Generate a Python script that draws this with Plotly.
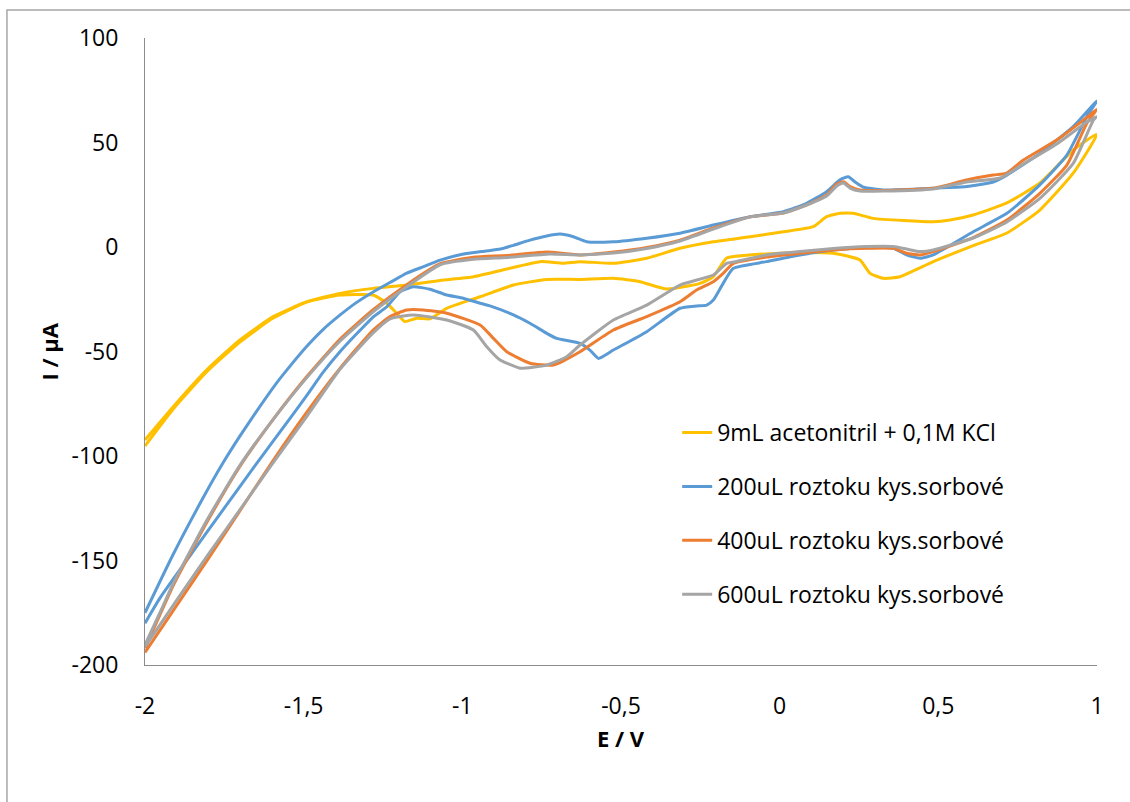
import plotly.graph_objects as go

# Cyclic voltammograms: potential E (V) vs current I (uA).
# Each curve is stored as its forward (-2 V -> 1 V) and reverse (1 V -> -2 V) scan.

SERIES_NAMES = [
    "9mL acetonitril + 0,1M KCl",
    "200uL roztoku kys.sorbové",
    "400uL roztoku kys.sorbové",
    "600uL roztoku kys.sorbové",
]
SERIES_COLORS = ["#FFC000", "#5B9BD5", "#ED7D31", "#A5A5A5"]

# --- 9 mL acetonitrile + 0.1 M KCl ---
kcl_fwd_E = [-2.0, -1.911, -1.806, -1.701, -1.596, -1.49, -1.385, -1.281, -1.175, -1.07,
             -0.965, -0.86, -0.755, -0.682, -0.629, -0.524, -0.419, -0.314, -0.209, -0.093,
             0.012, 0.106, 0.148, 0.19, 0.232, 0.295, 0.484, 0.537, 0.61, 0.716, 0.82, 0.925, 1.0]
kcl_fwd_I = [-92.3, -76.4, -58.9, -44.5, -33.3, -26.2, -22.2, -19.8, -18.2, -16.0,
             -14.2, -10.5, -7.0, -7.8, -7.0, -7.8, -5.4, -0.6, 2.5, 4.9,
             7.3, 9.7, 14.5, 16.1, 16.1, 13.7, 12.1, 12.9, 15.3, 21.1, 30.6, 46.4, 54.0]
kcl_rev_E = [1.0, 0.925, 0.82, 0.716, 0.61, 0.484, 0.379, 0.327, 0.285, 0.253, 0.169, 0.064,
             0.001, -0.093, -0.167, -0.209, -0.251, -0.356, -0.44, -0.524, -0.629, -0.734,
             -0.839, -0.944, -1.049, -1.102, -1.144, -1.181, -1.207, -1.238, -1.281, -1.385,
             -1.49, -1.596, -1.701, -1.806, -1.911, -2.0]
kcl_rev_I = [54.0, 35.3, 17.7, 6.7, 0.7, -7.0, -14.2, -15.0, -12.6, -6.2, -3.0, -2.6,
             -3.0, -3.8, -5.3, -14.2, -17.4, -20.1, -16.6, -15.0, -15.5, -15.5,
             -18.2, -23.8, -29.3, -34.4, -34.1, -35.7, -31.7, -26.9, -23.0, -23.0,
             -26.3, -34.0, -45.5, -59.8, -77.5, -95.2]

# --- 200 uL sorbic acid solution ---
s200_fwd_E = [-2.0, -1.911, -1.806, -1.753, -1.701, -1.648, -1.585, -1.543, -1.49, -1.439,
              -1.385, -1.333, -1.281, -1.228, -1.175, -1.124, -1.07, -1.0, -0.93, -0.88,
              -0.839, -0.787, -0.734, -0.692, -0.65, -0.608, -0.524, -0.419, -0.314, -0.209,
              -0.093, 0.012, 0.085, 0.148, 0.19, 0.216, 0.237, 0.264, 0.327, 0.484, 0.589,
              0.673, 0.716, 0.82, 0.925, 1.0]
s200_fwd_I = [-175.0, -147.0, -117.0, -103.0, -90.5, -78.5, -65.0, -57.0, -47.5, -39.5,
              -32.5, -26.5, -21.5, -17.0, -12.5, -9.5, -6.3, -3.5, -2.0, -1.0,
              0.8, 3.3, 5.3, 6.2, 4.9, 2.5, 2.5, 4.2, 6.6, 10.5,
              14.5, 16.9, 20.9, 26.5, 32.1, 33.6, 31.2, 28.6, 27.3, 28.1, 28.9,
              31.1, 34.4, 44.8, 57.6, 70.0]
s200_rev_E = [1.0, 0.968, 0.905, 0.82, 0.716, 0.61, 0.484, 0.442, 0.4, 0.358, 0.274, 0.169,
              0.064, -0.041, -0.146, -0.178, -0.209, -0.23, -0.262, -0.314, -0.419, -0.524,
              -0.571, -0.598, -0.629, -0.703, -0.734, -0.787, -0.839, -0.913, -0.944, -0.997,
              -1.049, -1.102, -1.154, -1.196, -1.238, -1.281, -1.333, -1.385, -1.439, -1.49,
              -1.543, -1.648, -1.753, -1.85, -1.953, -2.0]
s200_rev_I = [70.0, 62.3, 44.0, 29.7, 16.1, 7.3, -3.8, -5.4, -3.8, -0.6, -0.3, -1.4,
              -3.8, -7.0, -10.2, -17.4, -25.4, -27.8, -28.2, -29.3, -40.5, -49.3,
              -53.3, -49.3, -46.1, -43.7, -41.3, -36.5, -32.5, -28.2, -26.9, -24.5,
              -23.0, -20.2, -19.0, -21.4, -28.6, -33.5, -41.5, -50.0, -60.0, -71.0,
              -82.0, -103.5, -125.5, -146.0, -168.0, -180.0]

# --- 400 uL sorbic acid solution ---
s400_fwd_E = [-2.0, -1.95, -1.911, -1.806, -1.701, -1.596, -1.49, -1.385, -1.281, -1.175,
              -1.07, -0.965, -0.86, -0.734, -0.629, -0.524, -0.419, -0.314, -0.209, -0.093,
              0.012, 0.085, 0.148, 0.18, 0.201, 0.222, 0.253, 0.327, 0.484, 0.589, 0.673,
              0.716, 0.768, 0.873, 0.968, 1.0]
s400_fwd_I = [-192.0, -175.0, -162.0, -132.0, -105.0, -82.5, -62.0, -44.0, -30.0, -18.0,
              -8.0, -4.9, -4.1, -2.4, -3.8, -2.4, -0.2, 3.3, 9.1, 14.4,
              16.3, 20.1, 24.9, 30.1, 31.2, 28.9, 27.3, 27.0, 28.1, 32.1, 34.4,
              35.4, 41.6, 51.2, 62.0, 66.0]
s400_rev_E = [1.0, 0.968, 0.905, 0.82, 0.716, 0.61, 0.484, 0.442, 0.4, 0.358, 0.274, 0.169,
              0.064, -0.041, -0.146, -0.178, -0.209, -0.262, -0.314, -0.419, -0.524, -0.629,
              -0.713, -0.787, -0.86, -0.902, -0.944, -1.049, -1.123, -1.175, -1.228, -1.281,
              -1.385, -1.49, -1.6, -1.7, -1.8, -1.9, -2.0]
s400_rev_I = [66.0, 59.2, 39.2, 25.7, 12.9, 4.5, -2.2, -3.8, -3.0, -0.6, -0.6, -1.4,
              -3.0, -4.8, -7.8, -12.6, -16.6, -20.6, -26.2, -33.3, -39.7, -50.1,
              -56.5, -55.6, -50.1, -43.7, -37.3, -31.7, -30.1, -30.1, -33.3, -39.7,
              -58.0, -79.0, -103.0, -126.0, -149.0, -171.5, -194.0]

# --- 600 uL sorbic acid solution ---
s600_fwd_E = [-2.0, -1.95, -1.911, -1.806, -1.701, -1.596, -1.49, -1.385, -1.281, -1.175,
              -1.07, -0.965, -0.86, -0.724, -0.629, -0.524, -0.419, -0.314, -0.209, -0.093,
              0.012, 0.085, 0.148, 0.18, 0.201, 0.222, 0.253, 0.327, 0.484, 0.589, 0.695,
              0.768, 0.873, 0.968, 1.0]
s600_fwd_I = [-190.4, -174.0, -161.0, -131.0, -104.5, -82.5, -62.5, -45.0, -31.0, -19.0,
              -8.5, -5.9, -5.0, -3.3, -3.8, -2.9, -0.7, 2.9, 8.6, 14.4,
              16.3, 20.1, 24.4, 29.2, 30.6, 28.2, 26.8, 26.8, 27.8, 31.1, 33.0,
              39.7, 49.3, 59.8, 62.5]
s600_rev_E = [1.0, 0.989, 0.925, 0.82, 0.716, 0.61, 0.484, 0.442, 0.4, 0.358, 0.274, 0.169,
              0.064, 0.001, -0.041, -0.146, -0.167, -0.209, -0.314, -0.419, -0.524, -0.629,
              -0.671, -0.734, -0.818, -0.86, -0.881, -0.923, -0.965, -1.049, -1.154, -1.228,
              -1.281, -1.385, -1.49, -1.6, -1.7, -1.8, -1.9, -2.0]
s600_rev_I = [62.5, 60.8, 40.0, 23.3, 12.0, 4.3, -1.4, -2.2, -1.0, 0.2, 0.2, -0.7,
              -2.2, -3.0, -3.8, -7.2, -7.8, -13.4, -18.2, -27.8, -34.9, -46.9,
              -52.5, -56.5, -58.0, -55.6, -54.1, -47.7, -39.7, -34.9, -32.5, -34.4,
              -41.1, -58.4, -81.0, -104.0, -125.5, -147.0, -169.0, -191.4]

CURVES = [
    (kcl_fwd_E, kcl_fwd_I, kcl_rev_E, kcl_rev_I),
    (s200_fwd_E, s200_fwd_I, s200_rev_E, s200_rev_I),
    (s400_fwd_E, s400_fwd_I, s400_rev_E, s400_rev_I),
    (s600_fwd_E, s600_fwd_I, s600_rev_E, s600_rev_I),
]

X_TICKS = [-2, -1.5, -1, -0.5, 0, 0.5, 1]
X_TICK_LABELS = ["-2", "-1,5", "-1", "-0,5", "0", "0,5", "1"]
Y_TICKS = [-200, -150, -100, -50, 0, 50, 100]
Y_TICK_LABELS = ["-200", "-150", "-100", "-50", "0", "50", "100"]

FONT = "Open Sans, Lato, sans-serif"
AXIS_GREY = "#8C8C8C"

fig = go.Figure()
for name, color, (fE, fI, rE, rI) in zip(SERIES_NAMES, SERIES_COLORS, CURVES):
    fig.add_trace(go.Scatter(
        x=fE + rE[1:], y=fI + rI[1:],
        mode="lines", name=name, legendgroup=name,
        line=dict(color=color, width=3, shape="spline", smoothing=0.5),
    ))

fig.update_layout(
    width=1130, height=802,
    margin=dict(l=145, r=33, t=38, b=137),
    paper_bgcolor="white", plot_bgcolor="white",
    font=dict(family=FONT, size=23, color="#000000"),
    showlegend=True,
    legend=dict(
        x=0.559, y=0.405, xanchor="left", yanchor="top",
        bgcolor="rgba(0,0,0,0)", borderwidth=0,
        tracegroupgap=21, font=dict(size=23, color="#000000"),
    ),
    xaxis=dict(
        range=[-2, 1], tickvals=X_TICKS, ticktext=X_TICK_LABELS,
        showgrid=False, zeroline=False, showline=True, linecolor=AXIS_GREY, linewidth=1,
        ticks="", ticklabelstandoff=20, fixedrange=True,
    ),
    yaxis=dict(
        range=[-200, 100], tickvals=Y_TICKS, ticktext=Y_TICK_LABELS,
        showgrid=False, zeroline=False, showline=True, linecolor=AXIS_GREY, linewidth=1,
        ticks="", ticklabelstandoff=21, fixedrange=True,
    ),
    annotations=[
        dict(text="<b>E / V</b>", xref="paper", yref="paper", x=0.5, y=0,
             yshift=-73, xanchor="center", yanchor="middle", showarrow=False,
             font=dict(size=22, color="#000000")),
        dict(text="<b>I / µA</b>", xref="paper", yref="paper", x=0, y=0.5,
             xshift=-97, textangle=-90, xanchor="center", yanchor="middle",
             showarrow=False, font=dict(size=22, color="#000000")),
    ],
    shapes=[
        dict(type="rect", xref="paper", yref="paper",
             x0=-0.145, x1=1.05, y0=-0.25, y1=1.0447,
             line=dict(color="#A6A6A6", width=1.5), fillcolor="rgba(0,0,0,0)", layer="below"),
    ],
)

fig.write_html("out.html")
